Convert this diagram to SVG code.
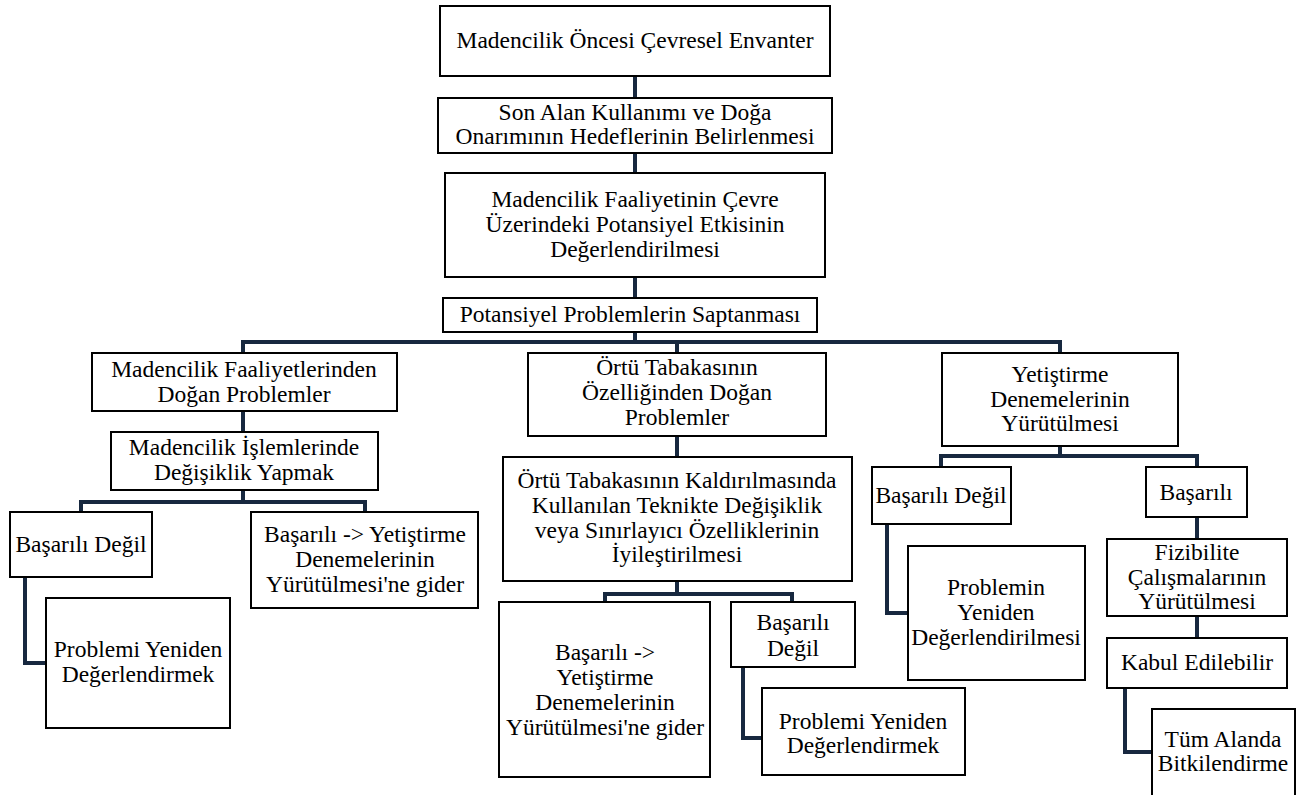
<svg xmlns="http://www.w3.org/2000/svg" width="1306" height="795" viewBox="0 0 1306 795">
<style>
.b{fill:#fff;stroke:#000;stroke-width:2}
text{font-family:'Liberation Serif','Times New Roman',Times,'DejaVu Serif','Noto Serif',serif;font-size:23.5px;fill:#000;text-anchor:middle}
.c{fill:none;stroke:#17283f;stroke-width:4;stroke-linejoin:miter;stroke-linecap:butt}
</style>
<rect width="1306" height="795" fill="#fff"/>
<g id="connectors">
<path class="c" d="M635,76V98M635,153V173M635,277V298M635,332V342"/>
<path class="c" d="M243,353V342H1060V353M677,342V353"/>
<path class="c" d="M243,411V432M243,490V502M81,512V502H365V512"/>
<path class="c" d="M25,577V663H46"/>
<path class="c" d="M677,436V457M677,581V594M605,602V594H792V602"/>
<path class="c" d="M743,667V738H762"/>
<path class="c" d="M1060,446V456M941,467V456H1197V467"/>
<path class="c" d="M887,524V613H908"/>
<path class="c" d="M1197,517V539M1197,616V638"/>
<path class="c" d="M1125,688V752H1152"/>
</g>
<g id="n1"><rect class="b" x="440" y="6" width="390" height="70"/><text x="635" y="48">Madencilik Öncesi Çevresel Envanter</text></g>
<g id="n2"><rect class="b" x="438" y="98" width="394" height="55"/><text x="635" y="120">Son Alan Kullanımı ve Doğa</text><text x="635" y="144">Onarımının Hedeflerinin Belirlenmesi</text></g>
<g id="n3"><rect class="b" x="445" y="173" width="380" height="104"/><text x="635" y="207">Madencilik Faaliyetinin Çevre</text><text x="635" y="232">Üzerindeki Potansiyel Etkisinin</text><text x="635" y="257">Değerlendirilmesi</text></g>
<g id="n4"><rect class="b" x="443" y="298" width="374" height="34"/><text x="630" y="322">Potansiyel Problemlerin Saptanması</text></g>
<g id="n5"><rect class="b" x="92" y="353" width="305" height="58"/><text x="244" y="377">Madencilik Faaliyetlerinden</text><text x="244" y="402">Doğan Problemler</text></g>
<g id="n6"><rect class="b" x="111" y="432" width="267" height="58"/><text x="244" y="455">Madencilik İşlemlerinde</text><text x="244" y="480">Değişiklik Yapmak</text></g>
<g id="n7"><rect class="b" x="10" y="512" width="142" height="65"/><text x="81" y="552">Başarılı Değil</text></g>
<g id="n8"><rect class="b" x="251" y="512" width="227" height="96"/><text x="365" y="542">Başarılı -&gt; Yetiştirme</text><text x="365" y="567">Denemelerinin</text><text x="365" y="592">Yürütülmesi'ne gider</text></g>
<g id="n9"><rect class="b" x="46" y="598" width="184" height="130"/><text x="138" y="657">Problemi Yeniden</text><text x="138" y="682">Değerlendirmek</text></g>
<g id="n10"><rect class="b" x="528" y="353" width="298" height="83"/><text x="677" y="375">Örtü Tabakasının</text><text x="677" y="400">Özelliğinden Doğan</text><text x="677" y="425">Problemler</text></g>
<g id="n11"><rect class="b" x="503" y="457" width="349" height="124"/><text x="677" y="488">Örtü Tabakasının Kaldırılmasında</text><text x="677" y="513">Kullanılan Teknikte Değişiklik</text><text x="677" y="538">veya Sınırlayıcı Özelliklerinin</text><text x="677" y="562">İyileştirilmesi</text></g>
<g id="n12"><rect class="b" x="499" y="602" width="211" height="175"/><text x="605" y="660">Başarılı -&gt;</text><text x="605" y="685">Yetiştirme</text><text x="605" y="710">Denemelerinin</text><text x="605" y="735">Yürütülmesi'ne gider</text></g>
<g id="n13"><rect class="b" x="731" y="602" width="124" height="65"/><text x="793" y="630">Başarılı</text><text x="793" y="656">Değil</text></g>
<g id="n14"><rect class="b" x="762" y="688" width="203" height="87"/><text x="863" y="729">Problemi Yeniden</text><text x="863" y="753">Değerlendirmek</text></g>
<g id="n15"><rect class="b" x="942" y="353" width="236" height="93"/><text x="1060" y="382">Yetiştirme</text><text x="1060" y="407">Denemelerinin</text><text x="1060" y="431">Yürütülmesi</text></g>
<g id="n16"><rect class="b" x="872" y="467" width="139" height="57"/><text x="941" y="503">Başarılı Değil</text></g>
<g id="n17"><rect class="b" x="1146" y="467" width="101" height="50"/><text x="1196" y="500">Başarılı</text></g>
<g id="n18"><rect class="b" x="908" y="546" width="177" height="134"/><text x="996" y="595">Problemin</text><text x="996" y="620">Yeniden</text><text x="996" y="645">Değerlendirilmesi</text></g>
<g id="n19"><rect class="b" x="1107" y="539" width="180" height="77"/><text x="1197" y="560">Fizibilite</text><text x="1197" y="585">Çalışmalarının</text><text x="1197" y="609">Yürütülmesi</text></g>
<g id="n20"><rect class="b" x="1107" y="638" width="180" height="50"/><text x="1197" y="670">Kabul Edilebilir</text></g>
<g id="n21"><rect class="b" x="1152" y="709" width="143" height="100"/><text x="1223" y="747">Tüm Alanda</text><text x="1223" y="771">Bitkilendirme</text></g>
</svg>
